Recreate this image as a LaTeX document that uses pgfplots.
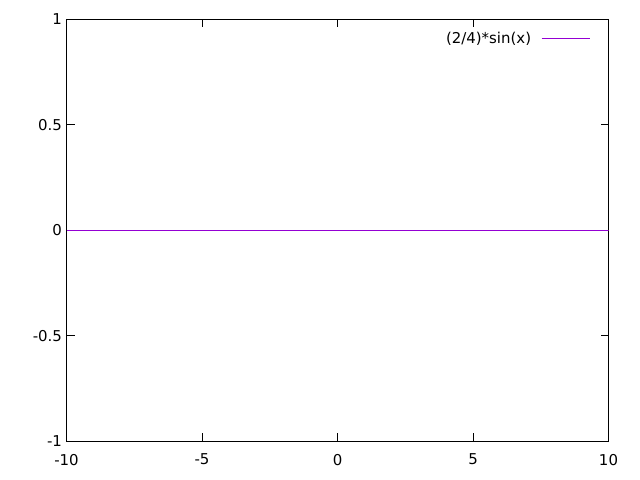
\documentclass[border=0pt]{standalone}
\usepackage{fontspec}
\setmainfont{DejaVu Sans}
\usepackage{pgfplots}
\pgfplotsset{compat=1.18}
\definecolor{gpviolet}{HTML}{9400D3}
\begin{document}
\begin{tikzpicture}
\useasboundingbox (0,0) rectangle (640bp,480bp);
\begin{axis}[
  at={(66.5bp,38.5bp)}, anchor=south west,
  scale only axis, width=542bp, height=422bp,
  xmin=-10, xmax=10, ymin=-1, ymax=1,
  xtick={-10,-5,0,5,10}, ytick={-1,-0.5,0,0.5,1},
  tick align=inside, major tick length=8bp,
  tick style={black, line width=1bp},
  axis line style={line width=1bp},
  /pgf/number format/assume math mode=true,
  ticklabel style={font=\fontsize{15}{17}\selectfont},
  xticklabel style={yshift=-9bp},
  yticklabel style={xshift=-1bp},
  legend style={draw=none, fill=none, at={(1,1)}, anchor=north east,
    xshift=-15bp, yshift=-8bp, font=\fontsize{15}{17}\selectfont,
    column sep=8bp},
  legend plot pos=right,
  legend cell align=right,
  legend image code/.code={\draw[color=gpviolet, line width=1.2bp] (0bp,0bp) -- (48bp,0bp);},
]
\addplot[color=gpviolet, draw=gpviolet, mark=none, line width=1.2bp] coordinates {(-10,0) (10,0)};
\addlegendentry{(2/4)*sin(x)}
\end{axis}
\end{tikzpicture}
\end{document}
